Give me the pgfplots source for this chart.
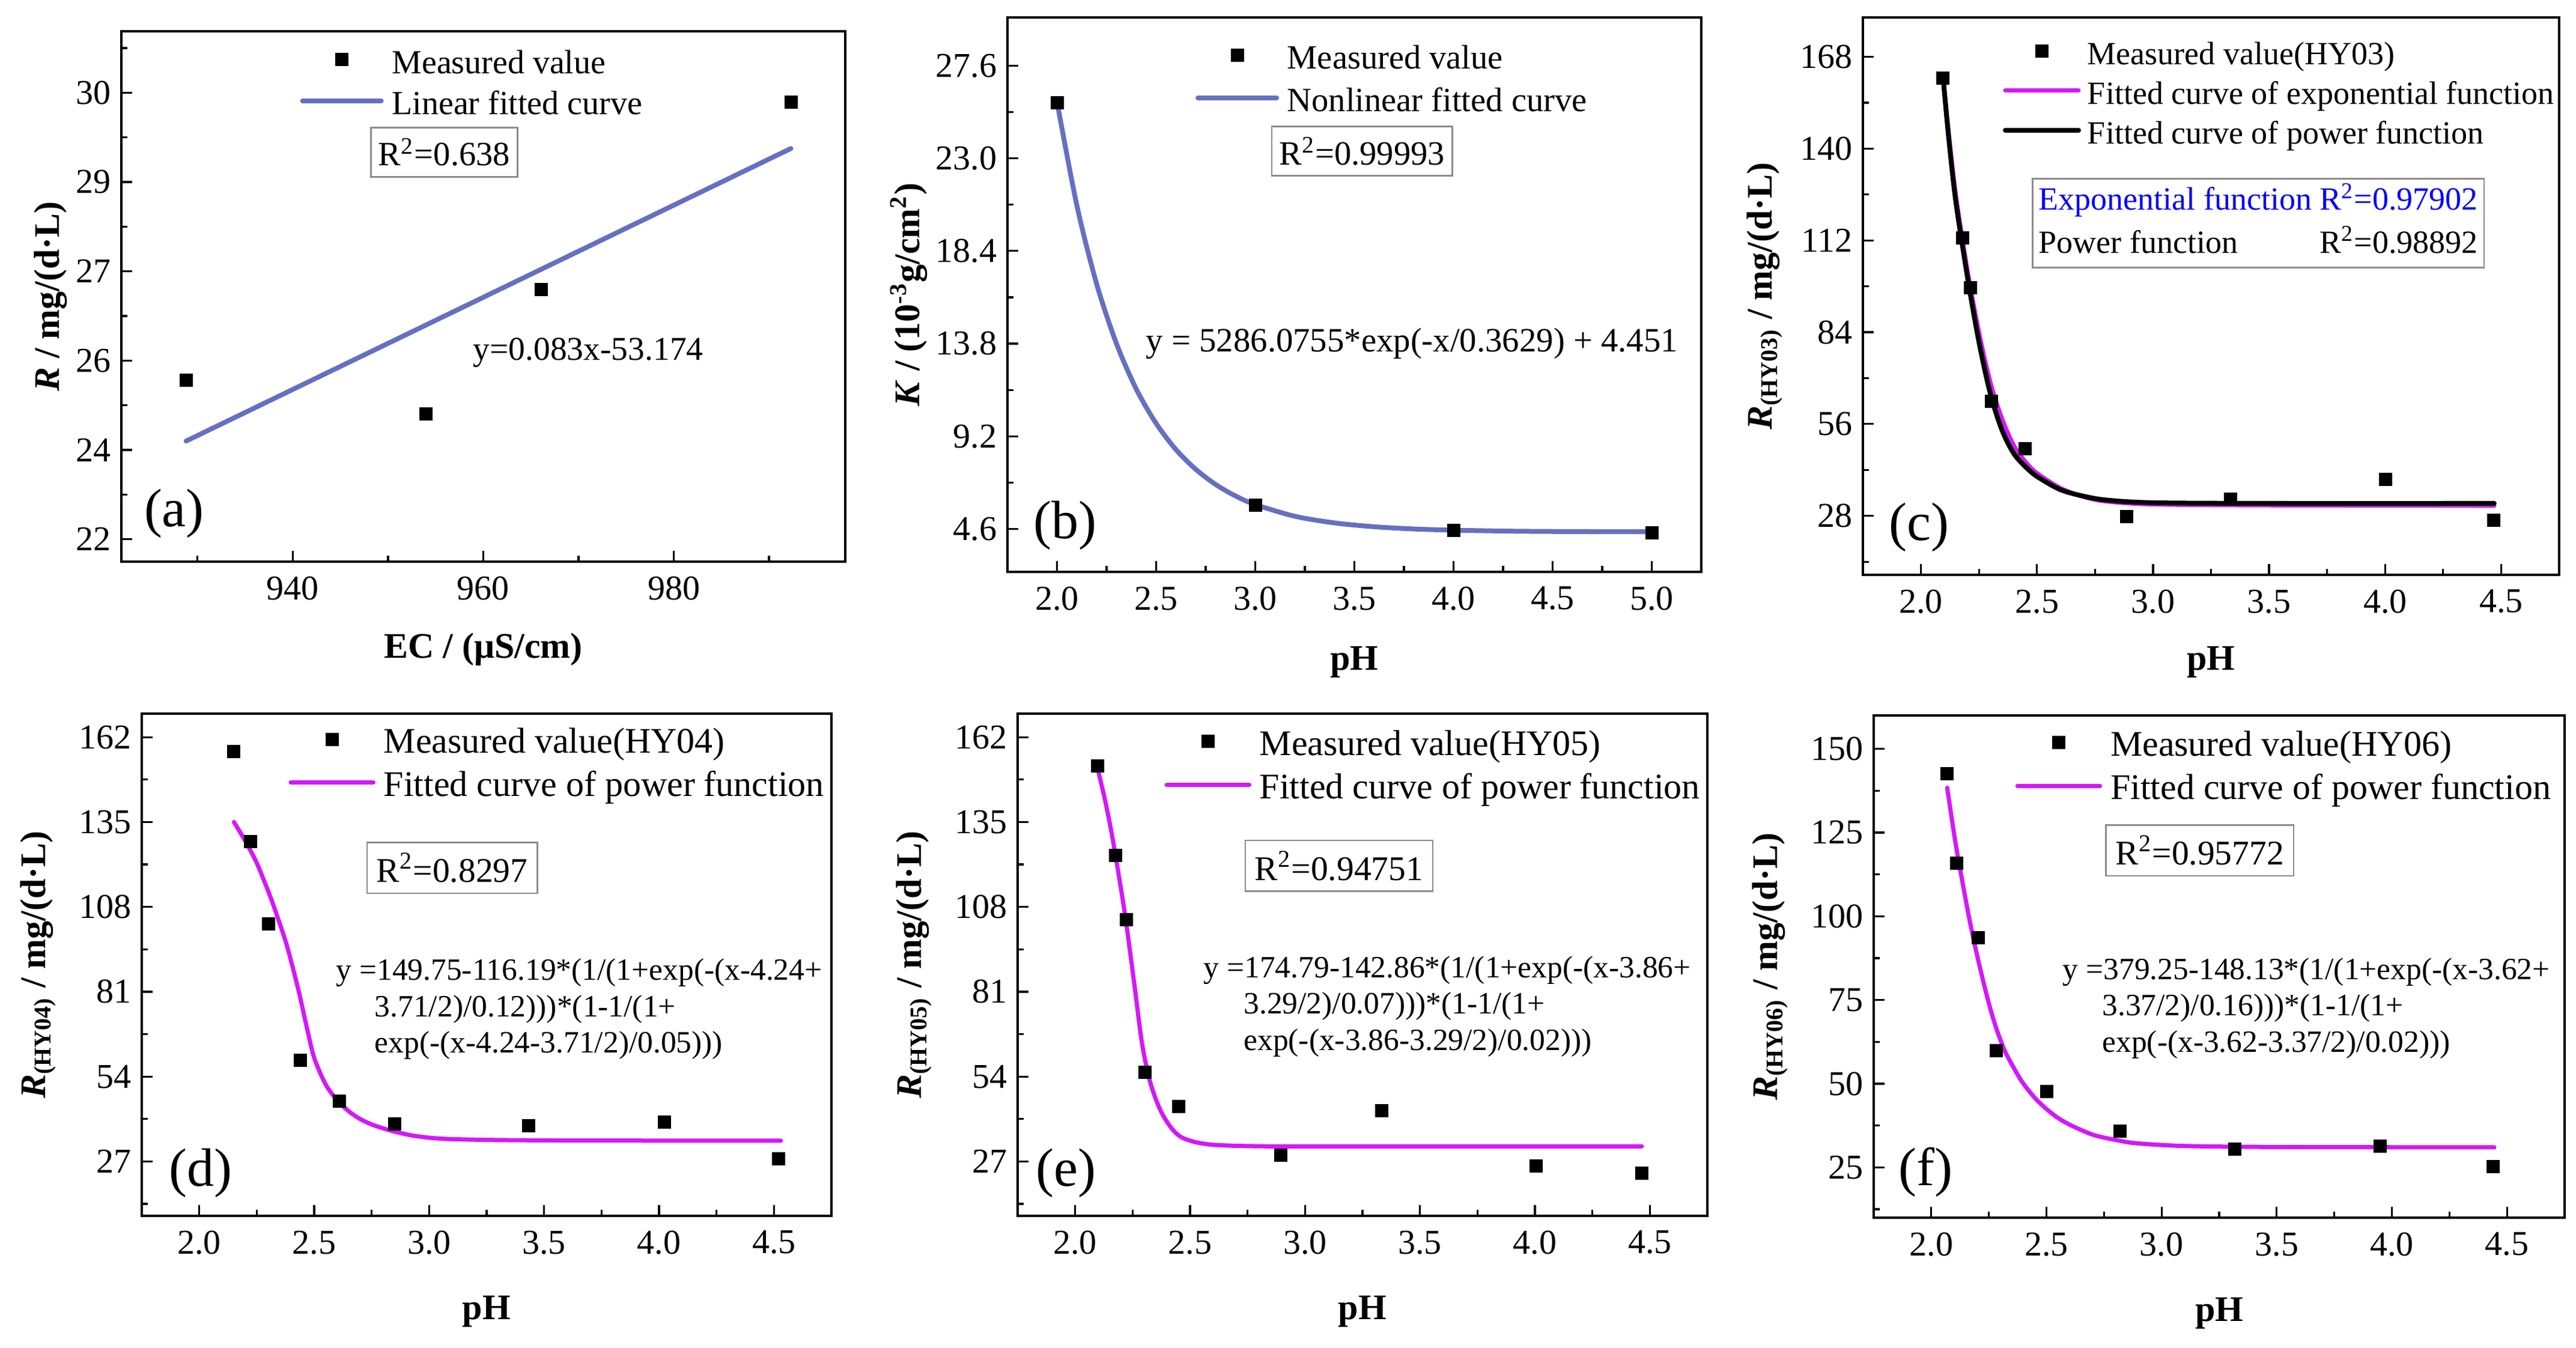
\documentclass[border=0pt]{standalone}
\usepackage{pgfplots}
\pgfplotsset{compat=1.18}
\usepackage{fontspec}
\setmainfont{Liberation Serif}
\definecolor{fitblue}{RGB}{102,112,192}
\definecolor{fitmag}{RGB}{212,24,250}
\definecolor{boxgray}{RGB}{140,140,140}
\newcommand\ls{\rule[-3pt]{0pt}{13.6pt}}
\newcommand\fsz[1]{\fontsize{#1}{#1}\selectfont}
\pgfplotsset{
  panel/.style={
    scale only axis,
    axis line style={line width=0.65pt},
    tick align=inside,
    xtick pos=left, ytick pos=left,
    major tick length=3.6pt, minor tick length=2pt,
    every tick/.append style={line width=0.65pt, black},
    tick label style={font=\fsz{11.6}},
    xticklabel style={yshift=-1.4pt},
    label style={font=\bfseries\fsz{12}},
    legend cell align=left,
  },
  pts/.style={only marks, mark=square*, mark size=2pt, black},
}
\tikzset{
  boxr/.style={draw=boxgray, line width=0.5pt, inner xsep=2.5pt, inner ysep=3.5pt},
  plab/.style={font=\fsz{18}, inner sep=0pt},
  eqn/.style={anchor=base west, inner sep=0pt, font=\fsz{10.3}},
}
\begin{document}
\begin{tikzpicture}
\path[use as bounding box] (0,0) rectangle (857.6pt,448.8pt);

% ---------------- (a)
\begin{axis}[panel,
  at={(40.4pt,261.8pt)}, anchor=south west, width=241pt, height=176.6pt,
  xmin=922, xmax=998, ymin=21.6, ymax=31.1,
  xtick={940,960,980}, xticklabels={940,960,980},
  minor xtick={930,950,970,990},
  ytick={22,23.6,25.2,26.8,28.4,30}, yticklabels={22,24,26,27,29,30},
  minor ytick={22.8,24.4,26,27.6,29.2,30.8},
  xlabel={EC / (μS/cm)}, ylabel={\textit{R} / mg/(d·L)},
  xlabel style={at={(axis description cs:0.5,-0.166)}, anchor=center},
  ylabel style={at={(axis description cs:-0.0975,0.5)}, anchor=center},
  legend style={draw=none, fill=none, inner sep=0pt, outer sep=0pt,
    at={(0.247,0.942)}, anchor=north west, yshift=6.8pt,
    row sep=1.6pt, column sep=2.75pt, nodes={inner sep=0pt}, font=\fsz{11.2}},
  legend image code/.code={\draw[mark repeat=2,mark phase=2,#1] plot coordinates {(0pt,0pt) (13.1pt,0pt) (26.2pt,0pt)};},
]
\addlegendimage{pts}
\addlegendentry{\ls Measured value}
\addplot[fitblue, line width=1.6pt, line cap=round] coordinates {(928.8,23.76) (992.3,29.0)};
\addlegendentry{\ls Linear fitted curve}
\addplot[pts, forget plot] coordinates {(928.8,24.85) (954.0,24.25) (966.1,26.47) (992.3,29.83)};
\node[boxr, font=\fsz{11.3}] at (rel axis cs:0.446,0.772) {R\textsuperscript{2}=0.638};
\node[font=\fsz{11.1}] at (rel axis cs:0.645,0.394) {y=0.083x-53.174};
\node[plab] at (rel axis cs:0.073,0.091) {(a)};
\end{axis}

% ---------------- (b)
\begin{axis}[panel,
  at={(335.4pt,258.4pt)}, anchor=south west, width=231pt, height=184.6pt,
  xmin=1.75, xmax=5.25, ymin=2.47, ymax=30.0,
  xtick={2,2.5,3,3.5,4,4.5,5}, xticklabels={2.0,2.5,3.0,3.5,4.0,4.5,5.0},
  minor xtick={2.25,2.75,3.25,3.75,4.25,4.75},
  ytick={4.6,9.2,13.8,18.4,23.0,27.6}, yticklabels={4.6,9.2,13.8,18.4,23.0,27.6},
  minor ytick={6.9,11.5,16.1,20.7,25.3},
  xlabel={pH}, ylabel={\textit{K} / (10\textsuperscript{-3}g/cm\textsuperscript{2})},
  xlabel style={at={(axis description cs:0.5,-0.163)}, anchor=center},
  ylabel style={at={(axis description cs:-0.142,0.5)}, anchor=center},
  legend style={draw=none, fill=none, inner sep=0pt, outer sep=0pt,
    at={(0.271,0.928)}, anchor=north west, yshift=6.8pt,
    row sep=2.1pt, column sep=2.75pt, nodes={inner sep=0pt}, font=\fsz{11.3}},
  legend image code/.code={\draw[mark repeat=2,mark phase=2,#1] plot coordinates {(0pt,0pt) (13.1pt,0pt) (26.2pt,0pt)};},
]
\addlegendimage{pts}
\addlegendentry{\ls Measured value}
\addplot[fitblue, line width=1.6pt, line cap=round, smooth] coordinates {
 (2.0,25.81) (2.1,20.67) (2.2,16.76) (2.3,13.80) (2.4,11.54) (2.5,9.84)
 (2.6,8.54) (2.7,7.56) (2.8,6.81) (2.9,6.24) (3.0,5.81) (3.2,5.23)
 (3.4,4.90) (3.6,4.71) (3.8,4.60) (4.0,4.54) (4.3,4.49) (4.6,4.47) (5.0,4.46)};
\addlegendentry{\ls Nonlinear fitted curve}
\addplot[pts, forget plot] coordinates {(2.0,25.75) (3.0,5.77) (4.0,4.54) (5.0,4.41)};
\node[boxr, font=\fsz{11.3}] at (rel axis cs:0.511,0.759) {R\textsuperscript{2}=0.99993};
\node[font=\fsz{11.35}] at (rel axis cs:0.583,0.412) {y = 5286.0755*exp(-x/0.3629) + 4.451};
\node[plab] at (rel axis cs:0.083,0.084) {(b)};
\end{axis}

% ---------------- (c)
\begin{axis}[panel,
  at={(620.2pt,257.4pt)}, anchor=south west, width=231.8pt, height=185.6pt,
  xmin=1.75, xmax=4.75, ymin=10, ymax=180,
  xtick={2,2.5,3,3.5,4,4.5}, xticklabels={2.0,2.5,3.0,3.5,4.0,4.5},
  minor xtick={2.25,2.75,3.25,3.75,4.25},
  ytick={28,56,84,112,140,168}, yticklabels={28,56,84,112,140,168},
  minor ytick={14,42,70,98,126,154},
  xlabel={pH}, ylabel={\textit{R}\textsubscript{(HY03)} / mg/(d·L)},
  xlabel style={at={(axis description cs:0.5,-0.157)}, anchor=center},
  ylabel style={at={(axis description cs:-0.141,0.5)}, anchor=center},
  legend style={draw=none, fill=none, inner sep=0pt, outer sep=0pt,
    at={(0.201,0.936)}, anchor=north west, yshift=6.8pt,
    row sep=1.1pt, column sep=2.2pt, nodes={inner sep=0pt}, font=\fsz{10.8}},
  legend image code/.code={\draw[mark repeat=2,mark phase=2,#1] plot coordinates {(0pt,0pt) (12.2pt,0pt) (24.4pt,0pt)};},
]
\addlegendimage{pts}
\addlegendentry{\ls Measured value(HY03)}
\addplot[fitmag, line width=1.4pt, line cap=round, smooth] coordinates {
 (2.095,162) (2.12,144.5) (2.15,126) (2.20,103) (2.25,84) (2.30,68.5) (2.35,57.5)
 (2.40,49.5) (2.45,44.5) (2.50,41) (2.60,36.5) (2.70,33.8) (2.80,32.4) (3.0,31.5)
 (3.5,31.2) (4.47,31.1)};
\addlegendentry{\ls Fitted curve of exponential function}
\addplot[black, line width=1.6pt, line cap=round, smooth] coordinates {
 (2.095,162) (2.12,143) (2.15,124) (2.20,101) (2.25,81) (2.30,65) (2.35,54)
 (2.40,47) (2.45,43) (2.50,40) (2.60,36) (2.70,34) (2.80,32.8) (3.0,32.0)
 (3.5,31.8) (4.47,31.8)};
\addlegendentry{\ls Fitted curve of power function}
\addplot[pts, forget plot] coordinates {(2.095,161.5) (2.179,112.8) (2.214,97.6)
 (2.305,62.9) (2.45,48.5) (2.886,27.7) (3.333,33.0) (4.002,39.1) (4.467,26.7)};
\node[draw=boxgray, line width=0.5pt, inner xsep=2pt, inner ysep=0.5pt]
  at (rel axis cs:0.568,0.631) {\fontsize{10.8}{14.3}\selectfont
  \begin{tabular}{@{}l@{}r@{}}
  \multicolumn{2}{@{}l@{}}{\textcolor{blue}{Exponential function R\textsuperscript{2}=0.97902}}\\
  Power function & R\textsuperscript{2}=0.98892
  \end{tabular}};
\node[plab] at (rel axis cs:0.081,0.085) {(c)};
\end{axis}

% ---------------- (d)
\begin{axis}[panel,
  at={(47.2pt,44.0pt)}, anchor=south west, width=229.6pt, height=167.2pt,
  xmin=1.75, xmax=4.75, ymin=9.7, ymax=169.5,
  xtick={2,2.5,3,3.5,4,4.5}, xticklabels={2.0,2.5,3.0,3.5,4.0,4.5},
  minor xtick={2.25,2.75,3.25,3.75,4.25},
  ytick={27,54,81,108,135,162}, yticklabels={27,54,81,108,135,162},
  minor ytick={13.5,40.5,67.5,94.5,121.5,148.5},
  xlabel={pH}, ylabel={\textit{R}\textsubscript{(HY04)} / mg/(d·L)},
  xlabel style={at={(axis description cs:0.5,-0.191)}, anchor=center},
  ylabel style={at={(axis description cs:-0.150,0.5)}, anchor=center},
  legend style={draw=none, fill=none, inner sep=0pt, outer sep=0pt,
    at={(0.213,0.944)}, anchor=north west, yshift=6.8pt,
    row sep=2.2pt, column sep=2.75pt, nodes={inner sep=0pt}, font=\fsz{12}},
  legend image code/.code={\draw[mark repeat=2,mark phase=2,#1] plot coordinates {(0pt,0pt) (13.75pt,0pt) (27.5pt,0pt)};},
]
\addlegendimage{pts}
\addlegendentry{\ls Measured value(HY04)}
\addplot[fitmag, line width=1.4pt, line cap=round, smooth] coordinates {
 (2.151,135) (2.20,129) (2.25,122) (2.30,113) (2.33,107) (2.38,96) (2.43,82)
 (2.47,69) (2.50,60) (2.55,51.5) (2.60,46.5) (2.65,43) (2.70,40.5) (2.76,38.5)
 (2.85,36.5) (2.95,35) (3.1,34.1) (3.5,33.7) (4.53,33.6)};
\addlegendentry{\ls Fitted curve of power function}
\addplot[pts, forget plot] coordinates {(2.151,157.5) (2.223,128.8) (2.302,102.5)
 (2.439,59.2) (2.611,46.2) (2.849,39.0) (3.434,38.3) (4.024,39.6) (4.520,27.8)};
\node[boxr, inner xsep=3.2pt, font=\fsz{11.5}] at (rel axis cs:0.450,0.693) {R\textsuperscript{2}=0.8297};
\node[eqn] at (rel axis cs:0.281,0.470) {y =149.75-116.19*(1/(1+exp(-(x-4.24+};
\node[eqn] at (rel axis cs:0.337,0.397) {3.71/2)/0.12)))*(1-1/(1+};
\node[eqn] at (rel axis cs:0.337,0.325) {exp(-(x-4.24-3.71/2)/0.05)))};
\node[plab] at (rel axis cs:0.085,0.085) {(d)};
\end{axis}

% ---------------- (e)
\begin{axis}[panel,
  at={(338.8pt,44.0pt)}, anchor=south west, width=229.6pt, height=167.2pt,
  xmin=1.75, xmax=4.75, ymin=9.7, ymax=169.5,
  xtick={2,2.5,3,3.5,4,4.5}, xticklabels={2.0,2.5,3.0,3.5,4.0,4.5},
  minor xtick={2.25,2.75,3.25,3.75,4.25},
  ytick={27,54,81,108,135,162}, yticklabels={27,54,81,108,135,162},
  minor ytick={13.5,40.5,67.5,94.5,121.5,148.5},
  xlabel={pH}, ylabel={\textit{R}\textsubscript{(HY05)} / mg/(d·L)},
  xlabel style={at={(axis description cs:0.5,-0.191)}, anchor=center},
  ylabel style={at={(axis description cs:-0.150,0.5)}, anchor=center},
  legend style={draw=none, fill=none, inner sep=0pt, outer sep=0pt,
    at={(0.213,0.940)}, anchor=north west, yshift=6.8pt,
    row sep=2.4pt, column sep=2.75pt, nodes={inner sep=0pt}, font=\fsz{12}},
  legend image code/.code={\draw[mark repeat=2,mark phase=2,#1] plot coordinates {(0pt,0pt) (13.75pt,0pt) (27.5pt,0pt)};},
]
\addlegendimage{pts}
\addlegendentry{\ls Measured value(HY05)}
\addplot[fitmag, line width=1.4pt, line cap=round, smooth] coordinates {
 (2.098,152) (2.13,142) (2.16,131) (2.19,118) (2.22,104) (2.26,82) (2.29,65)
 (2.32,54) (2.35,47) (2.38,42) (2.42,37.5) (2.46,34.8) (2.52,33.2) (2.60,32.3)
 (2.75,31.9) (3.0,31.8) (4.465,31.8)};
\addlegendentry{\ls Fitted curve of power function}
\addplot[pts, forget plot] coordinates {(2.098,152.8) (2.177,124.3) (2.223,103.9)
 (2.305,55.4) (2.451,44.4) (2.894,29.0) (3.333,43.1) (4.005,25.6) (4.465,23.3)};
\node[boxr, inner xsep=3.2pt, font=\fsz{11.5}] at (rel axis cs:0.466,0.697) {R\textsuperscript{2}=0.94751};
\node[eqn] at (rel axis cs:0.269,0.474) {y =174.79-142.86*(1/(1+exp(-(x-3.86+};
\node[eqn] at (rel axis cs:0.327,0.402) {3.29/2)/0.07)))*(1-1/(1+};
\node[eqn] at (rel axis cs:0.327,0.329) {exp(-(x-3.86-3.29/2)/0.02)))};
\node[plab] at (rel axis cs:0.070,0.085) {(e)};
\end{axis}

% ---------------- (f)
\begin{axis}[panel,
  at={(623.8pt,43.4pt)}, anchor=south west, width=230pt, height=167.2pt,
  xmin=1.75, xmax=4.75, ymin=10, ymax=160,
  xtick={2,2.5,3,3.5,4,4.5}, xticklabels={2.0,2.5,3.0,3.5,4.0,4.5},
  minor xtick={2.25,2.75,3.25,3.75,4.25},
  ytick={25,50,75,100,125,150}, yticklabels={25,50,75,100,125,150},
  minor ytick={12.5,37.5,62.5,87.5,112.5,137.5},
  xlabel={pH}, ylabel={\textit{R}\textsubscript{(HY06)} / mg/(d·L)},
  xlabel style={at={(axis description cs:0.5,-0.191)}, anchor=center},
  ylabel style={at={(axis description cs:-0.150,0.5)}, anchor=center},
  legend style={draw=none, fill=none, inner sep=0pt, outer sep=0pt,
    at={(0.205,0.942)}, anchor=north west, yshift=6.8pt,
    row sep=2.4pt, column sep=2.75pt, nodes={inner sep=0pt}, font=\fsz{12}},
  legend image code/.code={\draw[mark repeat=2,mark phase=2,#1] plot coordinates {(0pt,0pt) (13.75pt,0pt) (27.5pt,0pt)};},
]
\addlegendimage{pts}
\addlegendentry{\ls Measured value(HY06)}
\addplot[fitmag, line width=1.4pt, line cap=round, smooth] coordinates {
 (2.069,138.4) (2.098,125) (2.12,116) (2.163,100) (2.20,88) (2.246,75) (2.28,67)
 (2.318,60) (2.36,54.5) (2.40,50) (2.46,45) (2.533,40.6) (2.60,37.8) (2.70,34.8)
 (2.80,33.2) (2.892,32.2) (3.1,31.4) (3.5,31.1) (4.445,31.0)};
\addlegendentry{\ls Fitted curve of power function}
\addplot[pts, forget plot] coordinates {(2.069,142.6) (2.110,115.9) (2.203,93.6)
 (2.282,59.9) (2.500,47.7) (2.820,35.8) (3.317,30.4) (3.950,31.3) (4.440,25.3)};
\node[boxr, inner xsep=3.2pt, font=\fsz{11.5}] at (rel axis cs:0.472,0.731) {R\textsuperscript{2}=0.95772};
\node[eqn] at (rel axis cs:0.273,0.474) {y =379.25-148.13*(1/(1+exp(-(x-3.62+};
\node[eqn] at (rel axis cs:0.330,0.402) {3.37/2)/0.16)))*(1-1/(1+};
\node[eqn] at (rel axis cs:0.330,0.329) {exp(-(x-3.62-3.37/2)/0.02)))};
\node[plab] at (rel axis cs:0.075,0.090) {(f)};
\end{axis}
\end{tikzpicture}
\end{document}
